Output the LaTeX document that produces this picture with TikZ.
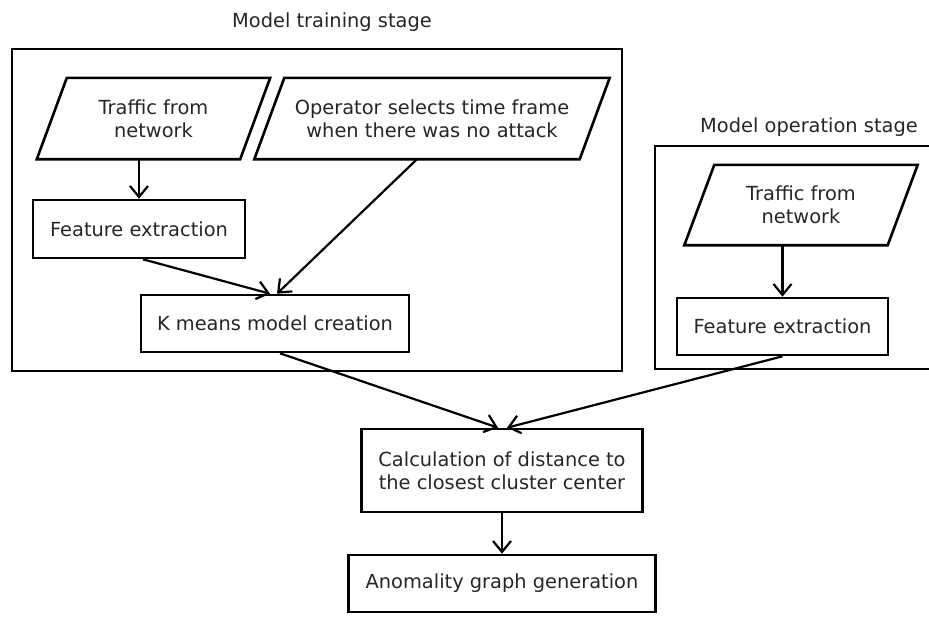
\documentclass[tikz,border=0pt]{standalone}
\usepackage{fontspec}
\setmainfont{DejaVu Sans}
\usetikzlibrary{arrows.meta}
\begin{document}
\begin{tikzpicture}[x=1pt,y=-1pt,
  every node/.style={font=\fontsize{19.4}{23}\selectfont, align=center, inner sep=0pt, text=black!85},
  procbox/.style={draw=black, line width=2.6pt},
  iobox/.style={},
  frame/.style={draw=black, line width=2.6pt},
  flow/.style={draw=black, line width=2.2pt, -{Straight Barb[length=11pt,width=18pt,line width=2.2pt]}},
  slant/.store in=\slantshift, slant=15pt]
  \useasboundingbox (0,0) rectangle (929,622);

  % stage frames
  \draw[frame] (12,49) rectangle (622,371);
  \draw[frame] (929,146) -- (655,146) -- (655,369) -- (929,369);
  \node (ttitle) at (332,22) {Model training stage};
  \node (otitle) at (809,127) {Model operation stage};

  % inputs (parallelogram bodies)
  \node[iobox, minimum width=203pt, minimum height=81pt] (p1) at (153.5,118.5) {Traffic from\\network};
  \node[iobox, minimum width=325pt, minimum height=81pt] (p2) at (432,118.5) {Operator selects time frame\\when there was no attack};
  \node[iobox, minimum width=203pt, minimum height=80pt] (p3) at (801,205) {Traffic from\\network};
  \foreach \p in {p1,p2,p3}
    \draw[procbox] ([xshift=\slantshift]\p.north west) -- ([xshift=\slantshift]\p.north east)
      -- ([xshift=-\slantshift]\p.south east) -- ([xshift=-\slantshift]\p.south west) -- cycle;

  % processing steps
  \node[procbox, minimum width=212pt, minimum height=58pt] (fe1) at (139,229) {Feature extraction};
  \node[procbox, minimum width=268pt, minimum height=57pt] (km) at (275,323.5) {K means model creation};
  \node[procbox, minimum width=211pt, minimum height=57pt] (fe2) at (782.5,326.5) {Feature extraction};
  \node[procbox, minimum width=281pt, minimum height=83pt] (calc) at (502,470.5) {Calculation of distance to\\the closest cluster center};
  \node[procbox, minimum width=307pt, minimum height=57pt] (anom) at (502,583.5) {Anomality graph generation};

  % connectors
  \draw[flow] (p1.south -| fe1.north) -- (fe1.north);
  \draw[flow] ([xshift=4pt]fe1.south) -- ([xshift=-5pt]km.north);
  \draw[flow] ([xshift=-15pt]p2.south) -- ([xshift=2pt]km.north);
  \draw[flow] (p3.south -| fe2.north) -- (fe2.north);
  \draw[flow] ([xshift=5pt]km.south) -- ([xshift=-4pt]calc.north);
  \draw[flow] (fe2.south) -- ([xshift=5pt]calc.north);
  \draw[flow] (calc.south) -- (anom.north);
\end{tikzpicture}
\end{document}
